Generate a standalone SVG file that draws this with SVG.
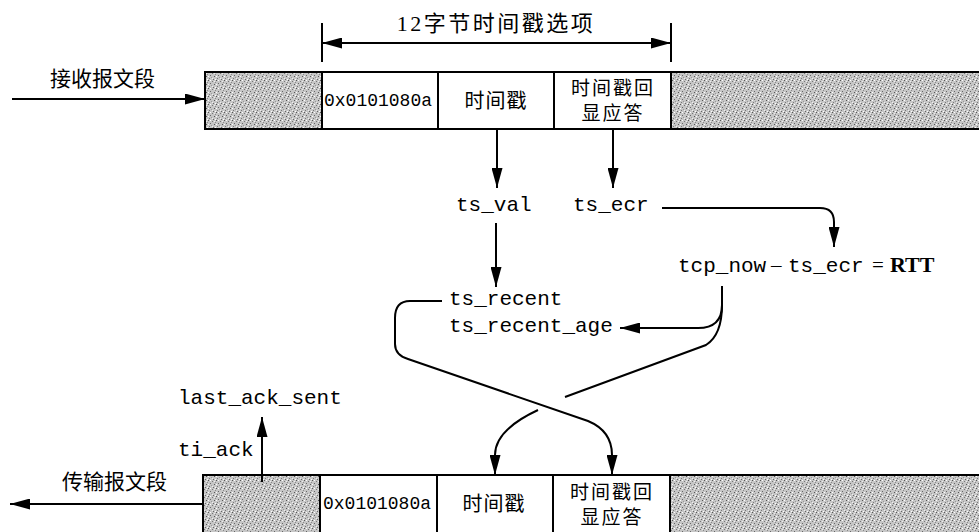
<svg xmlns="http://www.w3.org/2000/svg" width="979" height="532" viewBox="0 0 979 532">
<style>
.ln{fill:none;stroke:#000;stroke-width:2}
.arr{fill:none;stroke:#000;stroke-width:2;marker-end:url(#ah)}
.cell{fill:#fff;stroke:#000;stroke-width:2}
.shade{fill:url(#dither);stroke:#000;stroke-width:2}
.mono{font-family:"Liberation Mono","DejaVu Sans Mono",monospace;font-size:21px;fill:#000}
.hex{font-family:"Liberation Mono","DejaVu Sans Mono",monospace;font-size:18px;fill:#000}
.cjk{font-family:"Noto Sans CJK SC","Noto Sans",sans-serif;font-size:20px;fill:#000;letter-spacing:1px}
.cjk2{font-family:"Noto Sans CJK SC","Noto Sans",sans-serif;font-size:19px;fill:#000;letter-spacing:2px}
.lbl{font-family:"Noto Sans CJK SC","Noto Sans",sans-serif;font-size:21px;fill:#000}
.ser{font-family:"Liberation Serif","Noto Sans CJK SC",serif;font-size:21px;fill:#000}
</style>
<defs>
<marker id="ah" viewBox="0 0 20 11" refX="20" refY="5.5" markerWidth="20" markerHeight="11" markerUnits="userSpaceOnUse" orient="auto-start-reverse">
<path d="M0,0 L20,5.5 L0,11 z" fill="#000"/>
</marker>
<pattern id="dither" width="8" height="8" patternUnits="userSpaceOnUse">
<rect width="8" height="8" fill="#c6c6c6"/>
<rect x="0" y="0" width="1" height="1" fill="#555"/>
<rect x="4" y="1" width="1" height="1" fill="#777"/>
<rect x="2" y="3" width="1" height="1" fill="#666"/>
<rect x="6" y="4" width="1" height="1" fill="#555"/>
<rect x="1" y="6" width="1" height="1" fill="#777"/>
<rect x="5" y="7" width="1" height="1" fill="#666"/>
<rect x="3" y="5" width="1" height="1" fill="#999"/>
<rect x="7" y="2" width="1" height="1" fill="#888"/>
<rect x="2" y="0" width="1" height="1" fill="#fff"/>
<rect x="6" y="1" width="1" height="1" fill="#eee"/>
<rect x="0" y="4" width="1" height="1" fill="#fff"/>
<rect x="4" y="6" width="1" height="1" fill="#eee"/>
<rect x="7" y="7" width="1" height="1" fill="#fff"/>
</pattern>
</defs>

<g id="dimension">
<line class="ln" x1="322" y1="23" x2="322" y2="62" stroke-width="1.5"/>
<line class="ln" x1="671" y1="23" x2="671" y2="62" stroke-width="1.5"/>
<line x1="322" y1="43" x2="671" y2="43" stroke="#000" stroke-width="2" marker-start="url(#ah)" marker-end="url(#ah)"/>
<text x="496" y="31" text-anchor="middle" font-size="22" letter-spacing="2.5" font-family="'Liberation Serif','Noto Sans CJK SC',serif">12字节时间戳选项</text>
</g>

<g id="recv-segment">
<rect class="shade" x="205" y="72" width="117" height="57"/>
<rect class="cell" x="322" y="72" width="116" height="57"/>
<rect class="cell" x="438" y="72" width="116" height="57"/>
<rect class="cell" x="554" y="72" width="117" height="57"/>
<rect class="shade" x="671" y="72" width="312" height="57"/>
<text class="hex" x="324" y="106">0x0101080a</text>
<text class="cjk" x="496" y="107.5" text-anchor="middle">时间戳</text>
<text class="cjk2" x="613" y="95" text-anchor="middle">时间戳回</text>
<text class="cjk2" x="613" y="120" text-anchor="middle">显应答</text>
</g>

<g id="recv-label">
<text class="lbl" x="50" y="86">接收报文段</text>
</g>

<g id="send-segment">
<rect class="shade" x="203" y="475" width="117" height="62"/>
<rect class="cell" x="320" y="475" width="117" height="62"/>
<rect class="cell" x="437" y="475" width="116" height="62"/>
<rect class="cell" x="553" y="475" width="117" height="62"/>
<rect class="shade" x="670" y="475" width="313" height="62"/>
<text class="hex" x="323" y="509">0x0101080a</text>
<text class="cjk" x="494" y="510.5" text-anchor="middle">时间戳</text>
<text class="cjk2" x="612" y="499" text-anchor="middle">时间戳回</text>
<text class="cjk2" x="612" y="524" text-anchor="middle">显应答</text>
</g>

<g id="send-label">
<text class="lbl" x="62" y="489">传输报文段</text>
</g>

<g id="ts-val"><text class="mono" x="456" y="211">ts_val</text></g>
<g id="ts-ecr"><text class="mono" x="573" y="211">ts_ecr</text></g>
<g id="rtt">
<text class="mono" x="678" y="272">tcp_now</text>
<text class="ser" x="771" y="272">–</text>
<text class="mono" x="788" y="272">ts_ecr</text>
<text class="ser" x="872" y="272">=</text>
<text x="890" y="272" font-family="'Liberation Serif',serif" font-weight="bold" font-size="22">RTT</text>
</g>
<g id="ts-recent">
<text class="mono" x="449" y="305">ts_recent</text>
<text class="mono" x="449" y="332">ts_recent_age</text>
</g>
<g id="last-ack-sent"><text class="mono" x="178" y="404">last_ack_sent</text></g>
<g id="ti-ack"><text class="mono" x="178" y="456">ti_ack</text></g>

<g id="connectors">
<path class="arr" d="M12 99 L205 99"/>
<path class="arr" d="M203 504 L10 504"/>
<path class="arr" d="M497 129 L497 188"/>
<path class="arr" d="M613 129 L613 188"/>
<path class="arr" d="M662 208 L820 208 Q834 208 834 222 L834 247"/>
<path class="arr" d="M496 223 L496 287"/>
<path class="arr" d="M722 286 L722 305 Q722 328 698 328 L620 328"/>
<path class="arr" d="M442 301 L410 301 Q395 301 395 318 L395 344 Q395 355 408 359 L588 421 Q612 431 612 455 L612 475"/>
<path class="ln" d="M722 305 Q722 335 706 345 L565 397"/>
<path class="arr" d="M538 410 Q495 430 495 455 L495 475"/>
<path class="arr" d="M262 482 L262 417"/>
</g>
</svg>
